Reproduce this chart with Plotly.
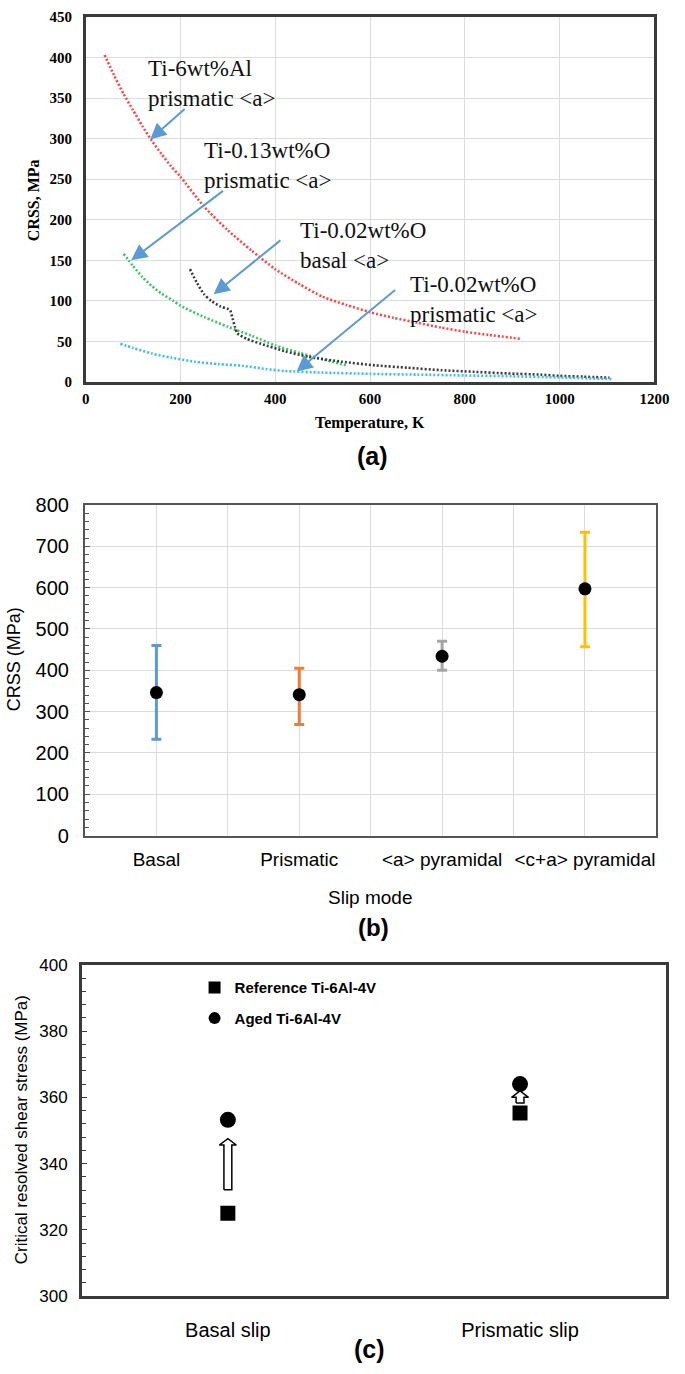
import plotly.graph_objects as go

# ---------------- Panel (a): CRSS vs temperature ----------------
t_al6 = [40, 60, 80, 100, 120, 140, 160, 180, 200, 250, 300, 350, 400, 450, 500, 550, 600, 650, 700, 750, 800, 850, 920]
crss_al6 = [403, 378, 355, 335, 315, 297, 281, 266, 253, 216, 187, 162, 139, 121, 105, 95, 86, 79, 73, 67, 62, 58, 53]

t_o13 = [80, 100, 120, 140, 160, 185, 200, 250, 300, 350, 400, 450, 500, 552]
crss_o13 = [158, 143, 129, 118, 109, 100, 94, 80, 68, 57, 45, 36, 28, 20]

t_o02b = [220, 235, 250, 265, 285, 300, 305, 310, 315, 320, 340, 370, 420, 470, 540, 610, 680, 750, 820, 890, 960, 1000, 1050, 1105]
crss_o02b = [139, 122, 108, 100, 93, 90, 88, 78, 68, 60, 53, 47, 38, 31, 25, 20.5, 17.5, 14.5, 12.5, 10.5, 9, 7.5, 6.5, 5.3]

t_o02p = [73, 100, 140, 180, 230, 280, 330, 380, 420, 500, 600, 700, 800, 900, 1000, 1112]
crss_o02p = [47, 42, 35, 30, 25, 22, 20, 16, 13.5, 11.5, 10, 9, 8, 7, 5.5, 3.5]

a_labels = ["Ti-6wt%Al<br>prismatic &lt;a&gt;", "Ti-0.13wt%O<br>prismatic &lt;a&gt;",
            "Ti-0.02wt%O<br>basal &lt;a&gt;", "Ti-0.02wt%O<br>prismatic &lt;a&gt;"]
a_label_x = [127, 246, 448, 681]
a_label_y = [404, 303, 204, 138]
arrow_tail_x = [212, 293, 414, 656]
arrow_tail_y = [338, 237, 176, 115]
arrow_head_x = [136, 96, 270, 445]
arrow_head_y = [299, 150, 108, 13]

# ---------------- Panel (b): CRSS by slip mode ----------------
slip_modes = ["Basal", "Prismatic", "&lt;a&gt; pyramidal", "&lt;c+a&gt; pyramidal"]
crss_mean = [346, 341, 434, 597]
crss_upper = [460, 405, 470, 734]
crss_lower = [233, 269, 400, 457]
bar_colors = ["#5B9BD5", "#ED7D31", "#A5A5A5", "#FFC000"]

# ---------------- Panel (c): reference vs aged ----------------
c_slips = ["Basal slip", "Prismatic slip"]
crss_reference = [325, 355.3]
crss_aged = [353.2, 364]
arrow_base = [332.1, 358.3]
arrow_tip = [347.5, 361.9]

W, H = 685, 1374
def fx(p):
    return p / W
def fy(p):
    return 1 - p / H

fig = go.Figure()

dot = "2px,2px"
for xs, ys, col in [(t_al6, crss_al6, "#FF4646"), (t_o13, crss_o13, "#3CC466"),
                    (t_o02b, crss_o02b, "#3C3C3C"), (t_o02p, crss_o02p, "#3DBDF0")]:
    fig.add_trace(go.Scatter(x=xs, y=ys, mode="lines", line=dict(color=col, width=2.6, dash=dot, shape="spline", smoothing=0.6),
                             xaxis="x", yaxis="y", showlegend=False, hoverinfo="skip"))

annotations = []
serif = "Liberation Serif"
for txt, lx, ly in zip(a_labels, a_label_x, a_label_y):
    annotations.append(dict(x=lx, y=ly, xref="x", yref="y", text=txt, showarrow=False, xanchor="left", yanchor="top",
                            align="left", font=dict(family=serif, size=23, color="#111")))
for tx, ty, hx, hy in zip(arrow_tail_x, arrow_tail_y, arrow_head_x, arrow_head_y):
    annotations.append(dict(x=hx, y=hy, xref="x", yref="y", ax=tx, ay=ty, axref="x", ayref="y", text="",
                            showarrow=True, arrowhead=2, arrowsize=1.6, arrowwidth=2, arrowcolor="#5B9BD5", standoff=0))

# panel (b)
for i, (m, lo, hi, col) in enumerate(zip(crss_mean, crss_lower, crss_upper, bar_colors)):
    fig.add_trace(go.Scatter(x=[i + 1], y=[m], mode="markers", marker=dict(color="black", size=13),
                             error_y=dict(type="data", symmetric=False, array=[hi - m], arrayminus=[m - lo],
                                          color=col, thickness=3, width=5),
                             xaxis="x2", yaxis="y2", showlegend=False, hoverinfo="skip"))

# panel (c)
sw, hw, hl = 0.0135, 0.029, 1.9
for i, (b, t) in enumerate(zip(arrow_base, arrow_tip)):
    xc = i + 1
    fig.add_trace(go.Scatter(x=[xc - sw, xc - sw, xc - hw, xc, xc + hw, xc + sw, xc + sw, xc - sw],
                             y=[b, t - hl, t - hl, t, t - hl, t - hl, b, b], mode="lines", fill="toself",
                             fillcolor="white", line=dict(color="black", width=1.5),
                             xaxis="x3", yaxis="y3", showlegend=False, hoverinfo="skip"))
fig.add_trace(go.Scatter(x=[1, 2], y=crss_reference, mode="markers", name="Reference Ti-6Al-4V",
                         marker=dict(symbol="square", color="black", size=15), xaxis="x3", yaxis="y3",
                         legendgroup="r"))
fig.add_trace(go.Scatter(x=[1, 2], y=crss_aged, mode="markers", name="Aged Ti-6Al-4V",
                         marker=dict(symbol="circle", color="black", size=16), xaxis="x3", yaxis="y3",
                         legendgroup="a"))

sans = "Liberation Sans"
def lab(px, py, text, family, size, bold=False, angle=0):
    f = dict(family=family, size=size, color="black")
    if bold:
        f["weight"] = "bold"
    return dict(x=fx(px), y=fy(py), xref="paper", yref="paper", text=text, textangle=angle, showarrow=False,
                xanchor="center", yanchor="middle", font=f)

annotations += [
    lab(30.6, 192.5, "CRSS, MPa", serif, 16, True, -90),
    lab(376.5, 419, "Temperature, K", serif, 16, True),
    lab(379, 452, "(a)", sans, 25, True),
    lab(11, 659, "CRSS (MPa)", sans, 18, False, -90),
    lab(377, 901, "Slip mode", sans, 19),
    lab(380, 931, "(b)", sans, 24, True),
    lab(17.5, 1137.5, "Critical resolved shear stress (MPa)", sans, 17, False, -90),
    lab(376, 1360, "(c)", sans, 25, True),
]

fig.update_layout(
    width=W, height=H, margin=dict(l=0, r=0, t=0, b=0),
    paper_bgcolor="white", plot_bgcolor="white",
    annotations=annotations,
    xaxis=dict(domain=[fx(84), fx(669)], range=[0, 1200], dtick=200, showgrid=True, gridcolor="#DCDCDC",
               showline=True, mirror=True, linecolor="#3A3A3A", linewidth=2.5, ticks="", zeroline=False,
               tickfont=dict(family=serif, size=15, color="black", weight="bold"), ticklabelstandoff=1,
               anchor="y"),
    yaxis=dict(domain=[fy(377), fy(6)], range=[0, 450], dtick=50, showgrid=True, gridcolor="#DCDCDC",
               showline=True, mirror=True, linecolor="#3A3A3A", linewidth=2.5, ticks="", zeroline=False,
               tickfont=dict(family=serif, size=15, color="black", weight="bold"), ticklabelstandoff=8,
               anchor="x"),
    xaxis2=dict(domain=[fx(83.3), fx(671)], range=[0.5, 4.5], tickvals=[1, 2, 3, 4], ticktext=slip_modes,
                showgrid=True, gridcolor="#DCDCDC", showline=True, mirror=True, linecolor="#555555", linewidth=2,
                ticks="", zeroline=False, tickfont=dict(family=sans, size=19, color="black"),
                ticklabelstandoff=6, minor=dict(tickvals=[1.5, 2.5, 3.5], showgrid=True, gridcolor="#DCDCDC"),
                anchor="y2"),
    yaxis2=dict(domain=[fy(838), fy(502)], range=[0, 800], dtick=100, showgrid=True, gridcolor="#DCDCDC",
                showline=True, mirror=True, linecolor="#555555", linewidth=2, ticks="inside", ticklen=5,
                tickcolor="#555555", zeroline=False, tickfont=dict(family=sans, size=20, color="black"),
                ticklabelstandoff=10, minor=dict(dtick=20, ticks="inside", ticklen=4, tickcolor="#555555"),
                anchor="x2"),
    xaxis3=dict(domain=[fx(80), fx(681)], range=[0.5, 2.5], tickvals=[1, 2], ticktext=c_slips, showgrid=False,
                showline=True, mirror=True, linecolor="#3A3A3A", linewidth=2.5, ticks="", zeroline=False,
                tickfont=dict(family=sans, size=20, color="black"), ticklabelstandoff=14, anchor="y3"),
    yaxis3=dict(domain=[fy(1306), fy(969.3)], range=[300, 400], dtick=20, showgrid=False, showline=True,
                mirror=True, linecolor="#3A3A3A", linewidth=2.5, ticks="inside", ticklen=5, tickcolor="#3A3A3A",
                zeroline=False, tickfont=dict(family=sans, size=17, color="black"), ticklabelstandoff=8,
                minor=dict(dtick=4, ticks="inside", ticklen=4, tickcolor="#3A3A3A"), anchor="x3"),
    legend=dict(x=fx(196), y=fy(976), xanchor="left", yanchor="top", bgcolor="rgba(0,0,0,0)",
                font=dict(family=sans, size=15, color="black", weight="bold"), itemsizing="constant",
                itemwidth=30, tracegroupgap=8, traceorder="grouped"),
)

fig.write_html("out.html", config={"displayModeBar": False},
               post_script="document.body.style.margin='0';document.body.style.padding='0';document.body.style.overflow='hidden';")
